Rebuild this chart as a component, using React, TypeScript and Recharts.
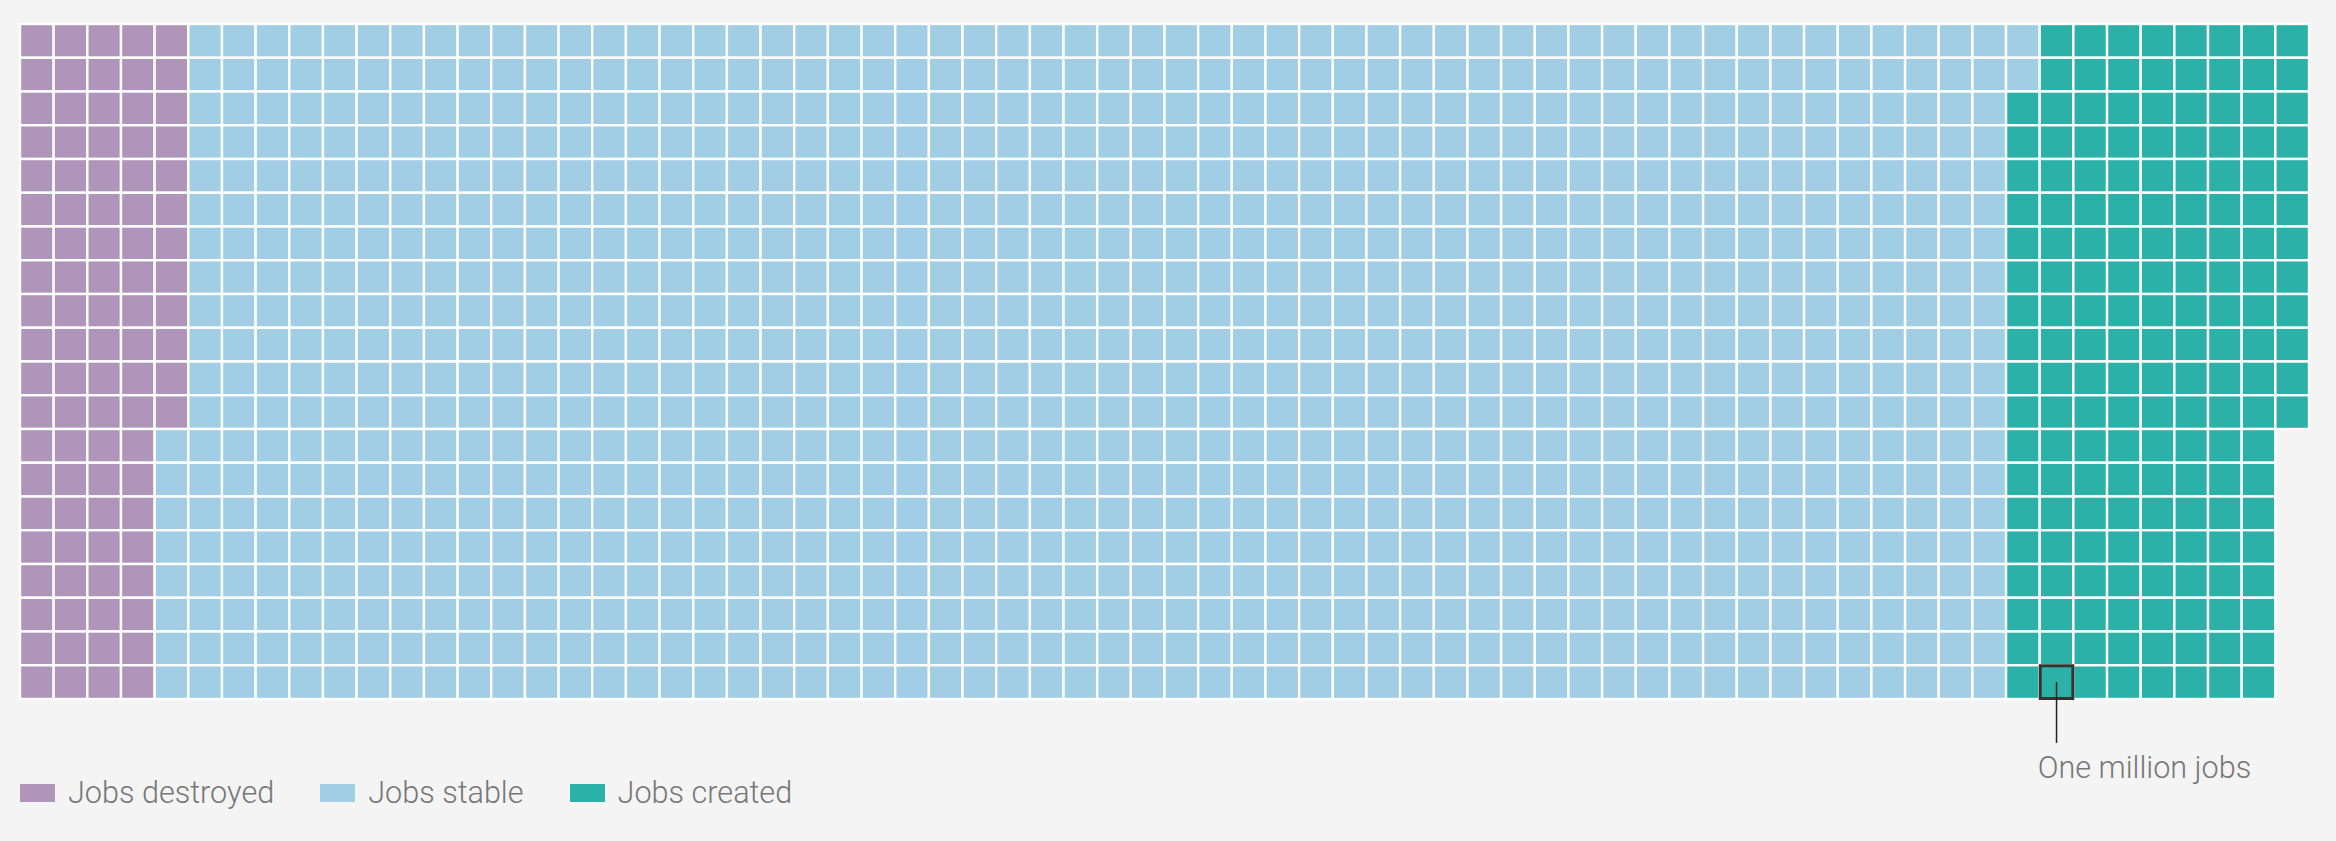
import React from "react"
import { ScatterChart, Scatter, XAxis, YAxis } from "recharts"

// one cell = one million jobs, filled column by column, top to bottom
const categories = ["Jobs destroyed", "Jobs stable", "Jobs created"]
const millionsOfJobs = [92, 1090, 170]
const colors = ["#b095bb", "#a1cde5", "#2bb1a8"]
const rows = 20
const columns = 68
const highlightCell = [{ x: 60.5, y: 19.5 }]
const annotation = "One million jobs"

const W = 2336
const H = 841
const margin = { top: 24, right: 27, bottom: 142, left: 20 }
const cellW = (W - margin.left - margin.right) / columns
const cellH = (H - margin.top - margin.bottom) / rows

// turn the counts into waffle cells
let idx = 0
const seriesCells = millionsOfJobs.map((count) => {
  const cells = []
  for (let k = 0; k < count; k++, idx++) {
    cells.push({ x: Math.floor(idx / rows) + 0.5, y: (idx % rows) + 0.5 })
  }
  return cells
})

const font = "Roboto, 'Liberation Sans', Arial, sans-serif"

function square(color: string) {
  return (props: any) => (
    <rect
      x={props.cx - cellW / 2}
      y={props.cy - cellH / 2}
      width={cellW}
      height={cellH}
      fill={color}
      stroke="#fff"
      strokeWidth={2.4}
    />
  )
}

// outlined cell with a leader line dropping to the note
const marker = (props: any) => (
  <g>
    <rect
      x={props.cx - cellW / 2 + 0.5}
      y={props.cy - cellH / 2 + 0.5}
      width={cellW - 1}
      height={cellH - 1}
      fill="none"
      stroke="#333"
      strokeWidth={3}
    />
    <line x1={props.cx} y1={props.cy} x2={props.cx} y2={props.cy + cellH * 1.8} stroke="#222" strokeWidth={1.5} />
  </g>
)

export default function App() {
  return (
    <div style={{ position: "relative", width: W, height: H, background: "#f4f4f4" }}>
      <style>{`body{margin:0;background:#f4f4f4}`}</style>
      <ScatterChart width={W} height={H} margin={margin}>
        <XAxis type="number" dataKey="x" domain={[0, columns]} hide />
        <YAxis type="number" dataKey="y" domain={[0, rows]} reversed hide />
        {categories.map((name, i) => (
          <Scatter
            key={name}
            name={name}
            data={seriesCells[i]}
            fill={colors[i]}
            shape={square(colors[i])}
            isAnimationActive={false}
          />
        ))}
        <Scatter name="marker" data={highlightCell} shape={marker} isAnimationActive={false} />
      </ScatterChart>

      <div
        style={{
          position: "absolute",
          left: margin.left + 60 * cellW - 2,
          top: 753,
          fontFamily: font,
          fontWeight: 300,
          fontSize: 30.6,
          lineHeight: "30px",
          color: "#777",
          whiteSpace: "nowrap",
        }}
      >
        {annotation}
      </div>

      <div
        style={{
          position: "absolute",
          left: 20,
          top: 778,
          display: "flex",
          alignItems: "center",
          fontFamily: font,
          fontWeight: 300,
          fontSize: 30.6,
          lineHeight: "30px",
          color: "#777",
        }}
      >
        {categories.map((name, i) => (
          <span key={name} style={{ display: "flex", alignItems: "center", marginRight: 46 }}>
            <span style={{ width: 35, height: 18, background: colors[i], marginRight: 13 }} />
            {name}
          </span>
        ))}
      </div>
    </div>
  )
}
